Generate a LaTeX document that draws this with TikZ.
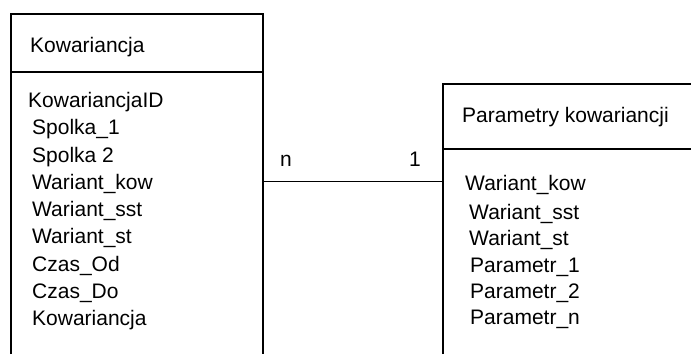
\documentclass[tikz,border=0pt]{standalone}
\usepackage{fontspec}
\setmainfont{Liberation Sans}
\tikzset{
  boxline/.style={line width=1.2pt, black},
  txt/.style={anchor=base west, inner sep=0pt, font=\fontsize{21}{25}\selectfont},
}
\begin{document}
\begin{tikzpicture}[x=1pt,y=-1pt]
\useasboundingbox (0,0) rectangle (691,354);
% left entity box (open at bottom)
\draw[boxline] (11,354) -- (11,14) -- (263,14) -- (263,354);
\draw[boxline] (11,72) -- (263,72);
% right entity box (open at bottom and right)
\draw[boxline] (443,354) -- (443,84) -- (691,84);
\draw[boxline] (443,149) -- (691,149);
% texts, left
\node[txt] (t1) at (30,52.5) {Kowariancja};
\node[txt] (a1) at (28,107) {KowariancjaID};
\node[txt] (a2) at (32,134.5) {Spolka\_1};
\node[txt] (a3) at (32,162) {Spolka 2};
\node[txt] (a4) at (32,189) {Wariant\_kow};
\node[txt] (a5) at (32,216.5) {Wariant\_sst};
\node[txt] (a6) at (32,243.5) {Wariant\_st};
\node[txt] (a7) at (32,271) {Czas\_Od};
\node[txt] (a8) at (32,298) {Czas\_Do};
\node[txt] (a9) at (32,325) {Kowariancja};
% texts, right
\node[txt] (t2) at (462,122.5) {Parametry kowariancji};
\node[txt] (b1) at (465,190) {Wariant\_kow};
\node[txt] (b2) at (469,219) {Wariant\_sst};
\node[txt] (b3) at (469,245) {Wariant\_st};
\node[txt] (b4) at (470,272) {Parametr\_1};
\node[txt] (b5) at (470,298) {Parametr\_2};
\node[txt] (b6) at (470,324) {Parametr\_n};
% connector
\coordinate (L) at (263,181.5);
\coordinate (R) at (443,181.5);
\draw[boxline] (L) -- (R);
\node[txt] (n) at (280,166) {n};
\node[txt] (one) at (409,166) {1};
\end{tikzpicture}
\end{document}
